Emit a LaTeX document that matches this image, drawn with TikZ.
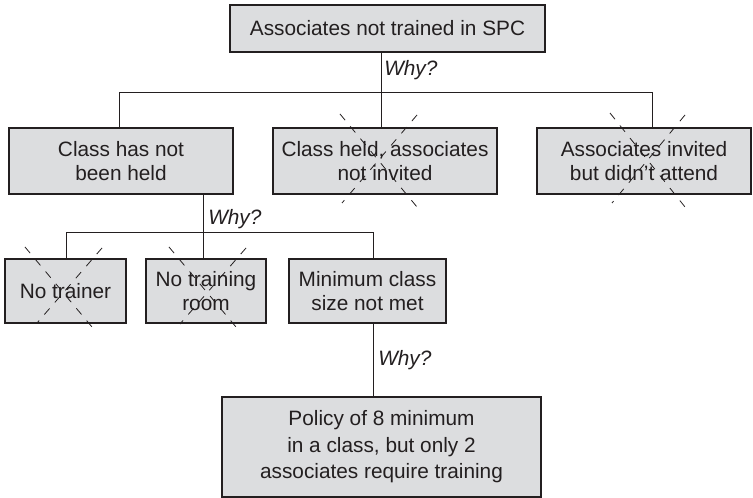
\documentclass[tikz,border=0pt]{standalone}
\usepackage{fontspec}
\setmainfont{Liberation Sans}
\begin{document}
\definecolor{boxfill}{RGB}{220,221,223}
\definecolor{ink}{RGB}{35,31,32}
\begin{tikzpicture}[x=0.75pt,y=-0.75pt,
  every node/.style={text=ink,font=\fontsize{15.6}{18}\selectfont},
  cause/.style={draw=ink,fill=boxfill,line width=0.8pt,align=center,inner sep=0pt},
  link/.style={draw=ink,line width=0.75pt},
  why/.style={anchor=west,inner sep=0pt,font=\fontsize{15.6}{18}\selectfont\itshape},
  strike/.style={draw=ink,line width=0.6pt,dash pattern=on 6pt off 6pt}]
\useasboundingbox (0,0) rectangle (753,498);

% problem statement and first round of causes
\node[cause,minimum width=236.25pt,minimum height=35.25pt] (top) at (387.5,28.5) {Associates not trained in SPC};
\node[cause,minimum width=168pt,minimum height=49.5pt] (a) at (121,161) {Class has not\\been held};
\node[cause,minimum width=168pt,minimum height=49.5pt] (b) at (385,161) {Class held, associates\\not invited};
\node[cause,minimum width=160.5pt,minimum height=49.5pt] (c) at (644,161) {Associates invited\\but didn't attend};

% second round of causes
\node[cause,minimum width=90.75pt,minimum height=48pt] (d) at (65.5,291) {No trainer};
\node[cause,minimum width=90pt,minimum height=48pt] (e) at (206,291) {No training\\room};
\node[cause,minimum width=117.75pt,minimum height=48pt] (f) at (367.5,291) {Minimum class\\size not met};

% root cause
\node[cause,minimum width=239.25pt,minimum height=75pt,font=\fontsize{15.6}{19.8}\selectfont] (g) at (381.5,447) {Policy of 8 minimum\\in a class, but only 2\\associates require training};

% branch points
\coordinate (j1) at (381,93);
\coordinate (ha) at (119,93);
\coordinate (hc) at (652,93);
\coordinate (j2) at (203,233);
\coordinate (hd) at (66,233);
\coordinate (hf) at (373,233);

% tree connectors
\draw[link] (top.south -| j1) -- (j1);
\draw[link] (a.north -| ha) |- (hc) -- (c.north -| hc);
\draw[link] (j1) -- (b.north -| j1);
\draw[link] (a.south -| j2) -- (j2);
\draw[link] (d.north -| hd) |- (hf) -- (f.north -| hf);
\draw[link] (j2) -- (e.north -| j2);
\draw[link] (f.south -| hf) -- (g.north -| hf);

% question labels
\node[why] (w1) at (384,70) {Why?};
\node[why] (w2) at (208,219) {Why?};
\node[why] (w3) at (378,360) {Why?};

% ruled-out causes
\draw[strike] (340,114) -- (417,207);
\draw[strike] (417,115) -- (342,203);
\draw[strike] (610,113) -- (685,207);
\draw[strike] (685,115) -- (612,203);
\draw[strike] (25,247) -- (92,327);
\draw[strike] (102,248) -- (37,323);
\draw[strike] (169,247) -- (236,327);
\draw[strike] (246,248) -- (180,324);
\end{tikzpicture}
\end{document}
